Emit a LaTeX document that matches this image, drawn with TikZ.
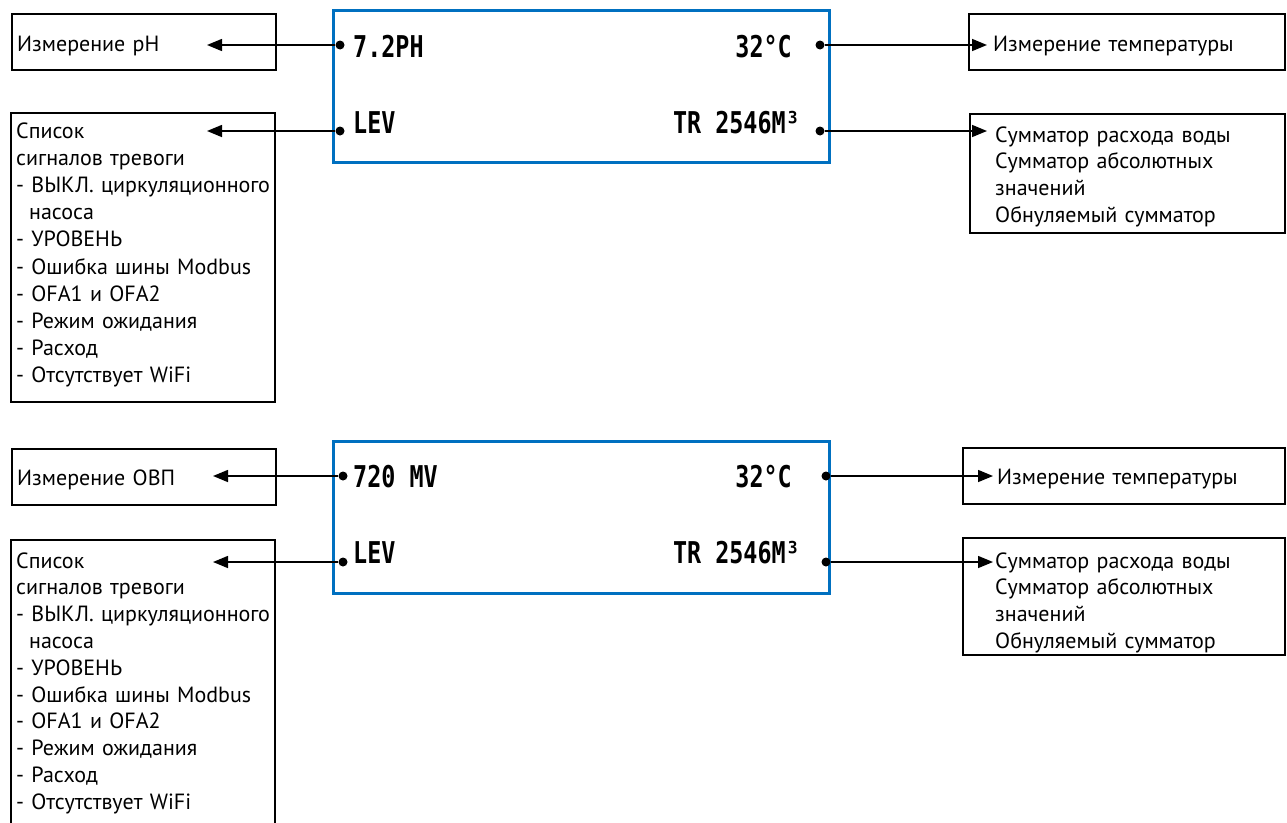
\documentclass[tikz,border=0pt]{standalone}
\usepackage{fontspec}
\setmainfont{PT Sans}
\newfontfamily\lcdfont[FakeStretch=0.78]{DejaVu Sans Mono}
\usetikzlibrary{arrows.meta}
\definecolor{lcdblue}{RGB}{0,112,192}
\tikzset{
  frame/.style={draw, line width=2.6pt, inner sep=0pt, outer sep=0pt, anchor=north west},
  panel/.style={draw=lcdblue, line width=3pt, inner sep=0pt, outer sep=0pt, anchor=north west,
    minimum width=496pt, minimum height=152pt},
  lab/.style={font=\fontsize{22}{26.8}\selectfont, inner sep=0pt, anchor=base west,
    align=left, text width=300pt},
  labtop/.style={lab, font=\fontsize{22}{27.2}\selectfont},
  lcd/.style={font=\lcdfont\bfseries\fontsize{30}{30}\selectfont, inner sep=0pt, anchor=base west},
  lcdr/.style={lcd, anchor=base east},
  dot/.style={circle, fill=black, inner sep=0pt, minimum size=9pt},
  conn/.style={line width=1.5pt, -{Triangle[length=15pt,width=12pt]}}
}
\begin{document}
\begin{tikzpicture}[x=1pt,y=-1pt]
\useasboundingbox (0,0) rectangle (1287,822);

% ---------- top panel ----------
\node[panel] (P1) at (333,10) {};
\node[lcd]  (P1a) at (353,57)  {7.2PH};
\node[lcdr] (P1b) at (792,57)  {32°C};
\node[lcd]  (P1c) at (353,133) {LEV};
\node[lcdr] (P1d) at (800,133) {TR 2546M³};
\node[dot] (d1) at (340,45) {};
\node[dot] (d2) at (820,45) {};
\node[dot] (d3) at (340,131) {};
\node[dot] (d4) at (820,131) {};

\node[frame, minimum width=264pt, minimum height=56pt] (L1) at (12,14) {};
\node[lab] (L1t) at (17,51) {Измерение pH};
\node[frame, minimum width=264pt, minimum height=289pt] (L2) at (11,113) {};
\node[labtop] (L2t) at (16,138) {Список\\сигналов тревоги\\- ВЫКЛ. циркуляционного\\\hspace*{13pt}насоса\\- УРОВЕНЬ\\- Ошибка шины Modbus\\- OFA1 и OFA2\\- Режим ожидания\\- Расход\\- Отсутствует WiFi};

\node[frame, minimum width=316pt, minimum height=56pt] (R1) at (969,14) {};
\node[lab] (R1t) at (993,51) {Измерение температуры};
\node[frame, minimum width=315pt, minimum height=119pt] (R2) at (970,114) {};
\node[lab] (R2t) at (995,142) {Сумматор расхода воды\\Сумматор абсолютных\\значений\\Обнуляемый сумматор};

\coordinate (t1) at (207,45);
\coordinate (t2) at (207,131);
\coordinate (t3) at (987,45);
\coordinate (t4) at (987,131);
\draw[conn] (d1) -- (t1);
\draw[conn] (d3) -- (t2);
\draw[conn] (d2) -- (t3);
\draw[conn] (d4) -- (t4);

% ---------- bottom panel ----------
\node[panel] (P2) at (333,441) {};
\node[lcd]  (P2a) at (353,487) {720 MV};
\node[lcdr] (P2b) at (792,487) {32°C};
\node[lcd]  (P2c) at (353,563) {LEV};
\node[lcdr] (P2d) at (800,563) {TR 2546M³};
\node[dot] (d5) at (343,476) {};
\node[dot] (d6) at (826,476) {};
\node[dot] (d7) at (343,562) {};
\node[dot] (d8) at (826,562) {};

\node[frame, minimum width=264pt, minimum height=56pt] (L3) at (12,449) {};
\node[lab] (L3t) at (17,485) {Измерение ОВП};
\node[frame, minimum width=264pt, minimum height=300pt] (L4) at (11,540) {};
\node[lab] (L4t) at (16,568) {Список\\сигналов тревоги\\- ВЫКЛ. циркуляционного\\\hspace*{13pt}насоса\\- УРОВЕНЬ\\- Ошибка шины Modbus\\- OFA1 и OFA2\\- Режим ожидания\\- Расход\\- Отсутствует WiFi};

\node[frame, minimum width=322pt, minimum height=56pt] (R3) at (963,448) {};
\node[lab] (R3t) at (997,484) {Измерение температуры};
\node[frame, minimum width=322pt, minimum height=117pt] (R4) at (963,538) {};
\node[lab] (R4t) at (995,568) {Сумматор расхода воды\\Сумматор абсолютных\\значений\\Обнуляемый сумматор};

\coordinate (t5) at (213,476);
\coordinate (t6) at (213,562);
\coordinate (t7) at (993,476);
\coordinate (t8) at (993,562);
\draw[conn] (d5) -- (t5);
\draw[conn] (d7) -- (t6);
\draw[conn] (d6) -- (t7);
\draw[conn] (d8) -- (t8);
\end{tikzpicture}
\end{document}
